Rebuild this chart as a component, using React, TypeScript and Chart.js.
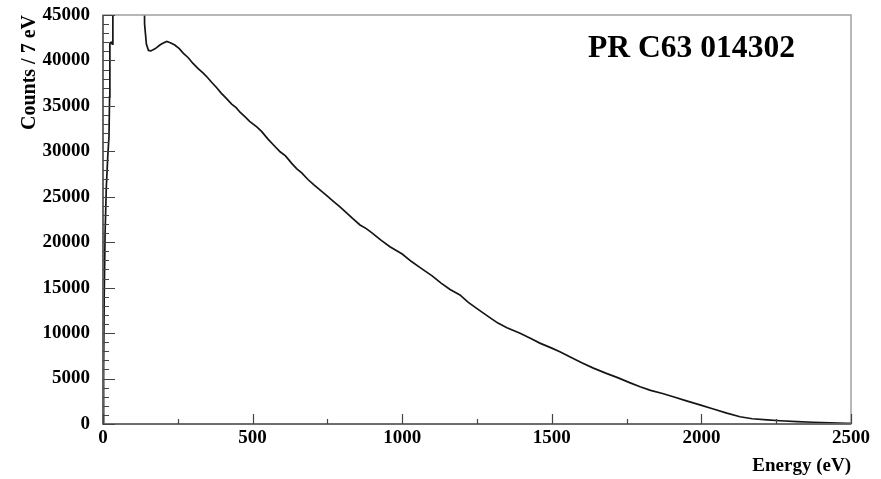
import React, { useEffect, useRef } from "react";
import { Chart, registerables } from "chart.js";

Chart.register(...registerables);

// Energy (eV) and counts per 7 eV
const lowEnergy = [0, 2, 4, 7, 11, 16, 20, 22, 23, 27, 31, 33];
const lowCounts = [0, 6000, 14000, 21000, 26000, 29500, 31600, 36000, 41900, 42000, 41800, 60000];

const mainEnergy = [
  136, 139, 145, 152, 160, 175, 190, 200, 213, 225, 240, 255, 268, 285, 300, 318, 335, 350, 363, 380,
  395, 413, 430, 445, 458, 475, 490, 514, 530, 550, 570, 592, 610, 630, 647, 665, 685, 705, 725, 745,
  770, 792, 815, 835, 859, 880, 900, 930, 959, 1000, 1030, 1060, 1100, 1130, 1160, 1193, 1220, 1250,
  1293, 1320, 1350, 1394, 1430, 1460, 1500, 1527, 1560, 1600, 1639, 1680, 1720, 1760, 1795, 1830,
  1870, 1906, 1950, 1995, 2040, 2085, 2129, 2170, 2220, 2263, 2320, 2373, 2430, 2485, 2500,
];
const mainCounts = [
  60000, 44000, 41800, 41100, 41050, 41300, 41700, 41900, 42100, 41950, 41700, 41300, 40800, 40300,
  39700, 39100, 38600, 38100, 37600, 37000, 36400, 35800, 35200, 34800, 34300, 33800, 33300, 32700,
  32200, 31400, 30700, 29950, 29500, 28700, 28100, 27600, 26900, 26300, 25750, 25200, 24500, 23900,
  23200, 22600, 21900, 21500, 21000, 20200, 19500, 18700, 17900, 17200, 16300, 15500, 14800, 14200,
  13400, 12700, 11700, 11100, 10600, 9980, 9400, 8900, 8350, 7950, 7400, 6750, 6150, 5600, 5100,
  4550, 4100, 3700, 3350, 3000, 2550, 2100, 1650, 1200, 800, 580, 450, 360, 260, 190, 120, 80, 60,
];

const titleText = "PR C63 014302";
const xAxisTitle = "Energy (eV)";
const yAxisTitle = "Counts / 7 eV";

const X_MIN = 0, X_MAX = 2500, X_STEP = 500, X_MINOR = 250;
const Y_MIN = 0, Y_MAX = 45000, Y_STEP = 5000, Y_MINOR = 1000;

const FONT = "'Liberation Serif', 'Times New Roman', serif";

const framePlugin = {
  id: "frameTicks",
  afterDraw(chart: any) {
    const { ctx, chartArea: a, scales } = chart;
    const x = scales.x, y = scales.y;
    ctx.save();
    // frame
    ctx.strokeStyle = "#a0a0a0";
    ctx.lineWidth = 1.5;
    ctx.strokeRect(a.left, a.top, a.right - a.left, a.bottom - a.top);
    // axes
    ctx.strokeStyle = "#555";
    ctx.lineWidth = 1.6;
    ctx.beginPath();
    ctx.moveTo(a.left, a.top);
    ctx.lineTo(a.left, a.bottom);
    ctx.lineTo(a.right, a.bottom);
    ctx.stroke();
    // inside ticks
    ctx.lineWidth = 1.2;
    ctx.strokeStyle = "#444";
    ctx.beginPath();
    for (let v = Y_MIN; v <= Y_MAX; v += Y_MINOR) {
      const py = Math.round(y.getPixelForValue(v)) + 0.5;
      const len = v % Y_STEP === 0 ? 12 : 6;
      ctx.moveTo(a.left, py);
      ctx.lineTo(a.left + len, py);
    }
    for (let v = X_MIN; v <= X_MAX; v += X_MINOR) {
      const px = Math.round(x.getPixelForValue(v)) + 0.5;
      const len = v % X_STEP === 0 ? 10 : 5;
      ctx.moveTo(px, a.bottom);
      ctx.lineTo(px, a.bottom - len);
    }
    ctx.stroke();
    // title
    ctx.fillStyle = "#000";
    ctx.font = `bold 31px ${FONT}`;
    ctx.textBaseline = "alphabetic";
    ctx.textAlign = "left";
    const w = ctx.measureText(titleText).width;
    const targetW = 207;
    ctx.translate(588, 57);
    ctx.scale(targetW / w, 1);
    ctx.fillText(titleText, 0, 0);
    ctx.restore();
  },
};

export default function App() {
  const ref = useRef<HTMLCanvasElement | null>(null);

  useEffect(() => {
    if (!ref.current) return;
    const lowData = lowEnergy.map((e, i) => ({ x: e, y: lowCounts[i] }));
    const mainData = mainEnergy.map((e, i) => ({ x: e, y: mainCounts[i] }));
    const data = [...lowData, { x: 80, y: null as any }, ...mainData];

    const chart = new Chart(ref.current, {
      type: "scatter",
      data: {
        datasets: [
          {
            data,
            showLine: true,
            spanGaps: false,
            borderColor: "#151515",
            borderWidth: 1.7,
            pointRadius: 0,
            tension: 0,
          },
        ],
      },
      options: {
        animation: false,
        responsive: false,
        events: [],
        layout: { padding: { left: 0, right: 30, top: 15, bottom: 0 } },
        plugins: { legend: { display: false }, tooltip: { enabled: false } },
        scales: {
          x: {
            type: "linear",
            min: X_MIN,
            max: X_MAX,
            grid: { display: false, drawTicks: false },
            border: { display: false },
            ticks: {
              stepSize: X_STEP,
              color: "#000",
              padding: 3,
              maxRotation: 0,
              font: { family: FONT, weight: "bold", size: 19 },
              callback: (v: any) => String(v),
            },
            title: {
              display: true,
              text: xAxisTitle,
              align: "end",
              color: "#000",
              padding: { top: 0, bottom: 2 },
              font: { family: FONT, weight: "bold", size: 19 },
            },
            afterFit: (s: any) => {
              s.height = 55;
              s.paddingLeft = 0;
              s.paddingRight = 0;
            },
          },
          y: {
            type: "linear",
            min: Y_MIN,
            max: Y_MAX,
            grid: { display: false, drawTicks: false },
            border: { display: false },
            ticks: {
              stepSize: Y_STEP,
              color: "#000",
              padding: 13,
              font: { family: FONT, weight: "bold", size: 19 },
              callback: (v: any) => String(v),
            },
            title: {
              display: true,
              text: yAxisTitle,
              align: "end",
              color: "#000",
              padding: { top: 18, bottom: 0 },
              font: { family: FONT, weight: "bold", size: 20 },
            },
            afterFit: (s: any) => {
              s.width = 103;
              s.paddingTop = 0;
              s.paddingBottom = 0;
            },
          },
        },
      },
      plugins: [framePlugin],
    });
    return () => chart.destroy();
  }, []);

  return (
    <div style={{ position: "fixed", left: 0, top: 0, width: 881, height: 479, background: "#fff" }}>
      <canvas ref={ref} width={881} height={479} />
    </div>
  );
}
